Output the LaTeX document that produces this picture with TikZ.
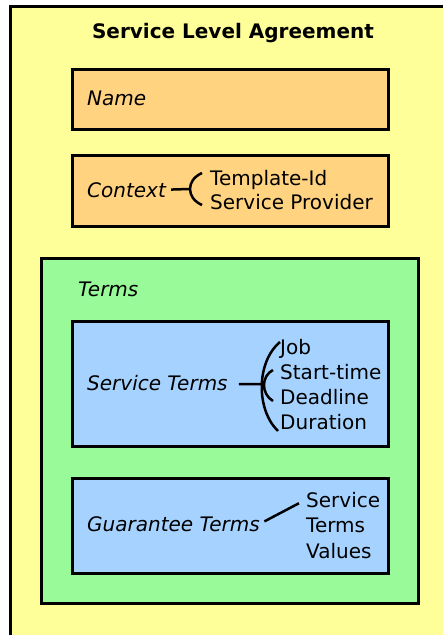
\documentclass[tikz,border=0pt]{standalone}
\usepackage{fontspec}
\setmainfont{DejaVu Sans}
\usetikzlibrary{positioning}

\definecolor{slayellow}{RGB}{255,255,153}
\definecolor{partorange}{RGB}{255,211,128}
\definecolor{termsgreen}{RGB}{153,250,153}
\definecolor{partblue}{RGB}{166,210,255}

\begin{document}
\begin{tikzpicture}[x=1pt,y=-1pt,
  every node/.style={inner sep=0pt, font=\fontsize{20}{25}\selectfont},
  part/.style={anchor=base west, font=\fontsize{20}{25}\selectfont\itshape},
  item/.style={anchor=base west},
  box/.style={draw, line width=3pt},
  brace/.style={line width=2.5pt}]

\useasboundingbox (0,0) rectangle (443,635);

% outer agreement box
\draw[box, fill=slayellow] (10,6.5) rectangle (447,636.5);
\node[anchor=base, font=\fontsize{20}{25}\selectfont\bfseries] (title) at (233,38) {Service Level Agreement};

% name
\draw[box, fill=partorange] (72,69) rectangle (388,129);
\node[part] (name) at (87,105) {Name};

% context
\draw[box, fill=partorange] (72,155) rectangle (388,226);
\node[part] (context) at (87,197) {Context};
\coordinate (ctxbrace) at (189,189);
\draw[brace, shorten <=5pt] (context.east) -- (ctxbrace);
\draw[brace] (202,173) .. controls (186,180) and (186,198) .. (202,205);
\node[item] (tplid) at (210,185) {Template-Id};
\node[item] (provider) at (210,209) {Service Provider};

% terms
\draw[box, fill=termsgreen] (41.5,258) rectangle (418.5,603.5);
\node[part] (terms) at (78,296) {Terms};

% service terms
\draw[box, fill=partblue] (72,321) rectangle (388,446);
\node[part] (sterms) at (87,390) {Service Terms};
\coordinate (stbrace) at (263,384);
\draw[brace, shorten <=11pt] ([yshift=-1.5pt]sterms.east) -- (stbrace);
\draw[brace] (280,342) .. controls (256,362) and (256,410) .. (278,431);
\draw[brace] (273,370) .. controls (261,376) and (261,394) .. (273,401);
\node[item] (job) at (280,354) {Job};
\node[item] (start) at (280,379) {Start-time};
\node[item] (deadline) at (280,404) {Deadline};
\node[item] (duration) at (280,429) {Duration};

% guarantee terms
\draw[box, fill=partblue] (72,478) rectangle (388,573);
\node[part] (gterms) at (87,531) {Guarantee Terms};
\node[item] (gservice) at (306,507) {Service};
\node[item] (gterms2) at (306,532) {Terms};
\node[item] (gvalues) at (306,558) {Values};
\draw[brace, shorten <=5pt, shorten >=8pt] (gterms.east) -- (gservice.west);
\end{tikzpicture}
\end{document}
